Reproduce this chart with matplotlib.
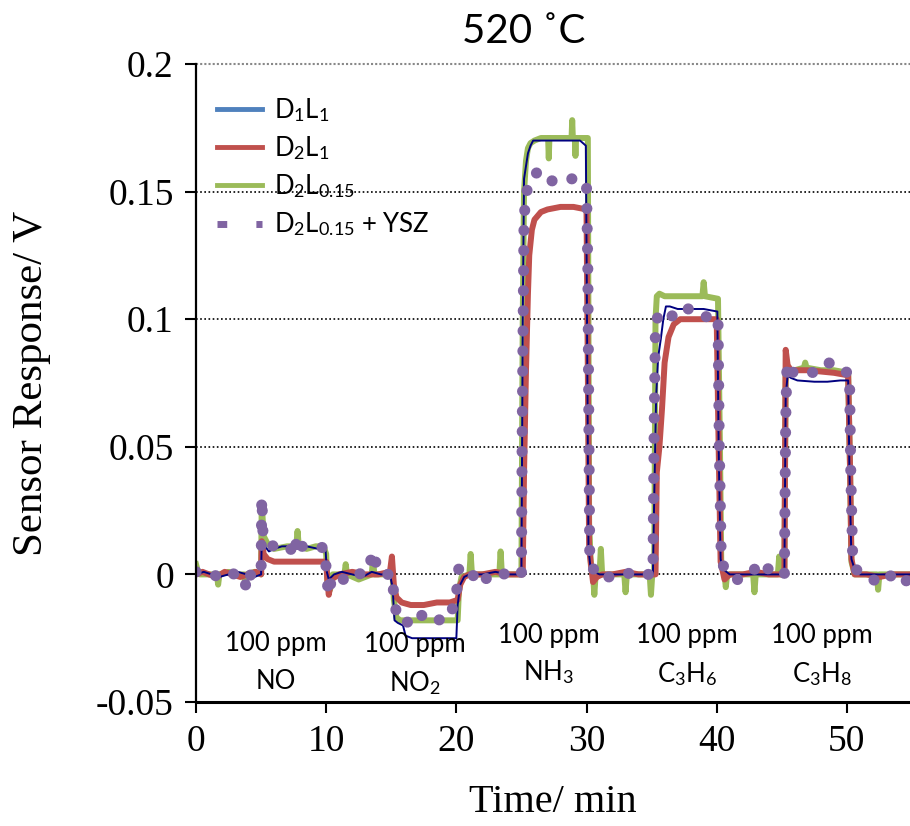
import matplotlib
matplotlib.use("Agg")
import matplotlib.pyplot as plt
from matplotlib.lines import Line2D

plt.rcParams["mathtext.fontset"] = "custom"
plt.rcParams["mathtext.rm"] = "Lato"
plt.rcParams["mathtext.it"] = "Lato:italic"

# --- data (time in min, response in V) ---
t_d1l1 = [0, 0.6, 1.2, 1.8, 2.5, 3.2, 3.9, 4.5, 5.0,
          5.05, 5.3, 5.6, 6.0, 6.6, 7.5, 8.5, 9.4, 9.95,
          10.05, 10.2, 10.6, 11.2, 12.0, 12.8, 13.5, 14.2, 14.9,
          15.1, 15.25, 15.5, 15.9, 16.1, 16.6, 17.5, 18.5, 19.5, 20.0,
          20.1, 20.3, 20.6, 21.0, 22.0, 23.0, 24.0, 25.0,
          25.1, 25.2, 25.35, 25.5, 25.7, 25.9, 26.5, 27.5, 28.5, 29.5, 29.95,
          30.05, 30.15, 30.3, 30.6, 31.0, 32.0, 33.0, 34.0, 35.1,
          35.2, 35.35, 35.5, 35.7, 35.9, 36.1, 36.4, 37.0, 38.0, 39.0, 40.05,
          40.15, 40.3, 40.5, 41.0, 42.0, 43.0, 44.0, 45.2,
          45.3, 45.45, 45.7, 46.2, 47.5, 48.5, 49.5, 50.1,
          50.2, 50.35, 50.6, 51.0, 52.0, 53.0, 54.0, 55.0]
v_d1l1 = [0, 0.001, 0, -0.001, 0, 0.001, 0, -0.001, 0,
          0.013, 0.011, 0.009, 0.010, 0.011, 0.011, 0.011, 0.010, 0.010,
          0.001, -0.002, 0, 0.001, 0, -0.001, 0.001, 0, 0,
          -0.005, -0.018, -0.019, -0.020, -0.024, -0.025, -0.025, -0.025, -0.025, -0.025,
          -0.012, -0.004, -0.001, 0, 0, 0.001, 0, 0,
          0.10, 0.155, 0.160, 0.165, 0.168, 0.170, 0.170, 0.170, 0.170, 0.170, 0.168,
          0.09, 0.01, 0.003, 0.001, 0, 0, 0, 0, 0,
          0.03, 0.07, 0.085, 0.092, 0.100, 0.105, 0.105, 0.104, 0.104, 0.104, 0.103,
          0.05, 0.006, 0.002, 0, 0, 0, 0, 0,
          0.07, 0.078, 0.077, 0.076, 0.0755, 0.0755, 0.076, 0.076,
          0.04, 0.006, 0.002, 0, 0, 0, 0, 0]

t_d2l1 = [0, 0.5, 1.0, 1.6, 2.2, 2.8, 3.4, 4.0, 4.6, 5.0,
          5.05, 5.2, 5.5, 6.0, 7.0, 8.0, 9.0, 10.0,
          10.1, 10.2, 10.4, 11.0, 12.0, 13.0, 14.0, 14.9, 15.05,
          15.2, 15.4, 15.8, 16.5, 17.5, 18.5, 19.5, 20.1,
          20.3, 20.6, 21.0, 22.0, 23.0, 24.0, 25.1,
          25.2, 25.35, 25.5, 25.6, 25.8, 26.0, 26.5, 27.0, 28.0, 29.0, 30.0,
          30.1, 30.2, 30.5, 30.8, 31.2, 32.0, 33.0, 34.0, 35.3,
          35.4, 35.6, 35.8, 36.0, 36.3, 36.7, 37.2, 38.0, 39.0, 40.0,
          40.15, 40.3, 40.6, 41.0, 42.0, 43.0, 44.0, 45.2,
          45.3, 45.45, 45.7, 47.0, 49.0, 50.1,
          50.25, 50.35, 50.6, 51.5, 52.5, 53.5, 55.0]
v_d2l1 = [0, 0.001, 0, -0.001, 0.001, 0, -0.001, 0, 0.001, 0,
          0.013, 0.008, 0.006, 0.005, 0.005, 0.005, 0.005, 0.005,
          -0.003, -0.008, -0.002, 0, 0.001, 0, 0, 0.001, 0.007,
          -0.004, -0.009, -0.011, -0.012, -0.012, -0.011, -0.011, -0.010,
          -0.004, -0.001, 0, 0, 0.001, 0, 0,
          0.04, 0.08, 0.11, 0.125, 0.135, 0.139, 0.142, 0.143, 0.144, 0.144, 0.143,
          0.08, 0.01, -0.003, -0.001, 0, 0, 0.001, 0, 0,
          0.04, 0.05, 0.065, 0.083, 0.093, 0.098, 0.100, 0.100, 0.100, 0.100,
          0.05, 0.005, -0.002, 0, 0, 0.001, 0, 0,
          0.088, 0.082, 0.080, 0.080, 0.079, 0.078,
          0.04, 0.006, 0, 0, -0.001, 0, 0]

t_d2l015 = [0, 0.15, 0.3, 1.0, 1.6, 1.7, 1.8, 2.5, 3.2, 3.7, 3.8, 3.9, 4.5, 5.0,
            5.05, 5.2, 5.5, 6.0, 7.0, 7.7, 7.8, 7.9, 8.5, 9.2, 9.8, 10.0,
            10.1, 10.3, 10.5, 11.4, 11.5, 11.6, 12.5, 13.5, 13.6, 13.7, 14.5, 15.1,
            15.2, 15.4, 15.7, 16.5, 17.5, 18.5, 19.5, 20.1,
            20.2, 20.4, 21.0, 21.1, 21.2, 22.0, 23.3, 23.4, 23.5, 24.5, 25.0,
            25.1, 25.2, 25.35, 25.5, 25.7, 26.0, 26.5, 27.05, 27.1, 27.15, 28.0,
            28.85, 28.9, 28.95, 29.1, 29.15, 29.2, 29.6, 30.1,
            30.2, 30.35, 30.5, 30.6, 30.7, 31.0, 31.1, 31.2, 32.0, 32.9, 33.0, 33.1,
            34.0, 34.85, 34.95, 35.05, 35.2,
            35.3, 35.4, 35.6, 36.0, 37.0, 38.0, 38.9, 39.0, 39.1, 40.1,
            40.25, 40.35, 40.6, 40.7, 40.8, 41.5, 42.8, 42.9, 43.0, 44.0, 44.7, 44.8, 44.9, 45.2,
            45.3, 45.5, 46.0, 46.7, 46.8, 46.9, 48.0, 49.0, 50.1,
            50.25, 50.35, 50.6, 51.5, 52.3, 52.4, 52.5, 53.5, 55.0]
v_d2l015 = [0.004, 0.001, 0, 0, 0, -0.004, 0, 0.001, 0, 0, -0.005, 0, 0.001, 0,
            0.028, 0.015, 0.012, 0.010, 0.011, 0.011, 0.017, 0.011, 0.010, 0.011, 0.011, 0.008,
            -0.004, -0.006, 0, 0, 0.004, 0, -0.002, 0, 0.006, 0, 0, 0,
            -0.010, -0.017, -0.018, -0.018, -0.018, -0.018, -0.018, -0.018,
            -0.006, -0.001, 0, 0.008, 0, 0, 0, 0.009, 0, 0, 0,
            0.10, 0.15, 0.162, 0.167, 0.169, 0.170, 0.171, 0.171, 0.163, 0.171, 0.171,
            0.171, 0.178, 0.171, 0.171, 0.164, 0.171, 0.171, 0.171,
            0.02, 0.002, 0, -0.008, 0, 0, 0.010, 0, 0, 0, -0.007, 0,
            0, 0, -0.008, 0, 0,
            0.10, 0.109, 0.110, 0.109, 0.109, 0.109, 0.109, 0.1145, 0.109, 0.108,
            0.05, 0.005, 0, -0.005, 0, 0, 0, -0.007, 0, 0, 0, 0.007, 0, 0,
            0.079, 0.080, 0.080, 0.081, 0.083, 0.081, 0.080, 0.080, 0.079,
            0.04, 0.005, 0, 0, 0, -0.006, 0, 0, 0]

t_ysz = [0, 0.6, 1.2, 1.8, 2.4, 3.0, 3.6, 3.9, 4.2, 4.7, 5.0,
         5.05, 5.1, 5.15, 5.3, 5.5, 6.0, 6.6, 7.2, 7.5, 7.8, 8.1, 8.8, 9.5, 9.9,
         10.0, 10.1, 10.2, 10.4, 10.8, 11.6, 12.4, 13.2, 13.6, 14.0, 14.6, 15.1,
         15.2, 15.4, 15.6, 16.0, 16.8, 17.2, 17.6, 18.5, 19.5, 20.0,
         20.1, 20.2, 20.5, 21.2, 22.0, 22.5, 23.5, 24.5, 25.0,
         25.05, 25.2, 25.4, 25.6, 25.9, 26.3, 26.8, 27.5, 28.5, 29.5, 30.0,
         30.1, 30.25, 30.5, 30.9, 31.7, 32.8, 33.9, 34.6, 35.1,
         35.2, 35.3, 35.7, 36.5, 37.5, 38.8, 40.1,
         40.2, 40.35, 40.6, 41.0, 41.6, 42.5, 43.5, 44.3, 45.2,
         45.3, 45.4, 45.7, 46.5, 47.5, 48.6, 49.3, 50.2,
         50.3, 50.45, 50.7, 51.2, 52.4, 53.2, 54.3, 55.0]
v_ysz = [0.001, 0, 0, -0.001, 0.001, 0, 0, -0.006, 0, 0, 0,
         0.030, 0.024, 0.015, 0.013, 0.012, 0.011, 0.011, 0.011, 0.007, 0.015, 0.011, 0.011, 0.011, 0.010,
         0.002, -0.004, -0.008, -0.002, 0, -0.003, 0, 0.001, 0.009, 0.001, 0, 0,
         -0.010, -0.015, -0.018, -0.019, -0.018, -0.015, -0.018, -0.018, -0.017, -0.008,
         -0.002, 0.003, 0.001, 0, -0.004, 0, 0, 0.001, 0,
         0.05, 0.14, 0.150, 0.153, 0.156, 0.158, 0.155, 0.154, 0.155, 0.155, 0.152,
         0.12, 0.005, 0.002, 0.003, -0.001, 0, 0.001, 0, 0,
         0.06, 0.099, 0.103, 0.101, 0.105, 0.101, 0.101,
         0.05, 0.006, 0.002, 0, -0.002, 0, 0.005, 0, 0,
         0.06, 0.0825, 0.079, 0.080, 0.079, 0.083, 0.080, 0.079,
         0.04, 0.006, 0.002, 0, -0.003, 0, -0.004, 0]

gas_labels = ["NO", "NO$_\\mathrm{2}$", "NH$_\\mathrm{3}$",
              "C$_\\mathrm{3}$H$_\\mathrm{6}$", "C$_\\mathrm{3}$H$_\\mathrm{8}$"]
conc_label = "100 ppm"

y_ticks = [-0.05, 0, 0.05, 0.1, 0.15, 0.2]
y_ticklabels = ["-0.05", "0", "0.05", "0.1", "0.15", "0.2"]
x_ticks = [0, 10, 20, 30, 40, 50]

# label placement (data coords): x centre, y of first and second line
gas_x = [6.1, 16.8, 27.1, 37.7, 48.1]
gas_y1 = [-0.0272, -0.0276, -0.0241, -0.0241, -0.0241]
gas_y2 = [-0.0421, -0.0425, -0.0382, -0.0390, -0.0390]

fig = plt.figure(figsize=(9.1, 8.26), dpi=100)
ax = fig.add_axes([196 / 910, 1 - 702 / 826, 1 - 196 / 910, (702 - 64) / 826])

ax.plot(t_d2l015, v_d2l015, color="#9BBB59", lw=4.3, solid_joinstyle="round")
ax.plot(t_d2l1, v_d2l1, color="#C0504D", lw=4.3, solid_joinstyle="round")
ax.plot(t_d1l1, v_d1l1, color="#000080", lw=1.4)
ax.plot(t_ysz, v_ysz, color="#8064A2", lw=8, linestyle=(0, (0.01, 1.8)),
        dash_capstyle="round")

ax.set_xlim(0, 54.85)
ax.set_ylim(-0.05, 0.2)
for y in [0, 0.05, 0.1, 0.15]:
    ax.axhline(y, color="black", lw=1.2, linestyle=(0, (1, 1.5)), zorder=0)
ax.axhline(0.2, color="#888888", lw=1.5, linestyle=(0, (1, 1)), zorder=0, clip_on=False)

for s in ["top", "right"]:
    ax.spines[s].set_visible(False)
ax.spines["left"].set_linewidth(1.6)
ax.spines["bottom"].set_linewidth(2.2)

ax.set_xticks(x_ticks)
ax.set_yticks(y_ticks)
ax.set_yticklabels(y_ticklabels)
ax.tick_params(axis="both", direction="out", length=8, width=1.5,
               labelsize=27, pad=8)
for lab in ax.get_xticklabels() + ax.get_yticklabels():
    lab.set_fontfamily("Liberation Serif")

ax.set_xlabel("Time/ min", fontsize=29, family="Liberation Serif", labelpad=18)
ax.set_ylabel("Sensor Response/ V", fontsize=31, family="Liberation Serif", labelpad=32)

fig.text(0.575, 0.962, "520 \u02daC", fontsize=29, family="Lato",
         ha="center", va="center")

for gx, g1, g2, name in zip(gas_x, gas_y1, gas_y2, gas_labels):
    ax.text(gx, g1, conc_label, fontsize=18.5, family="Lato", ha="center", va="center")
    ax.text(gx, g2, name, fontsize=18.5, family="Lato", ha="center", va="center")

handles = [
    Line2D([], [], color="#4F81BD", lw=3.5),
    Line2D([], [], color="#C0504D", lw=3.5),
    Line2D([], [], color="#9BBB59", lw=3.5),
    Line2D([], [], color="#8064A2", lw=5, linestyle=(0, (1.4, 4.2)),
           dash_capstyle="butt"),
]
labels = ["D$_\\mathrm{1}$L$_\\mathrm{1}$", "D$_\\mathrm{2}$L$_\\mathrm{1}$",
          "D$_\\mathrm{2}$L$_\\mathrm{0.15}$", "D$_\\mathrm{2}$L$_\\mathrm{0.15}$ + YSZ"]
ax.legend(handles, labels, loc="upper left", bbox_to_anchor=(0.0, 0.982),
          frameon=False, prop={"family": "Lato", "size": 18.5},
          handlelength=1.75, handletextpad=0.5, labelspacing=0.4, borderpad=0.3)

fig.savefig("out.png", dpi=100)
